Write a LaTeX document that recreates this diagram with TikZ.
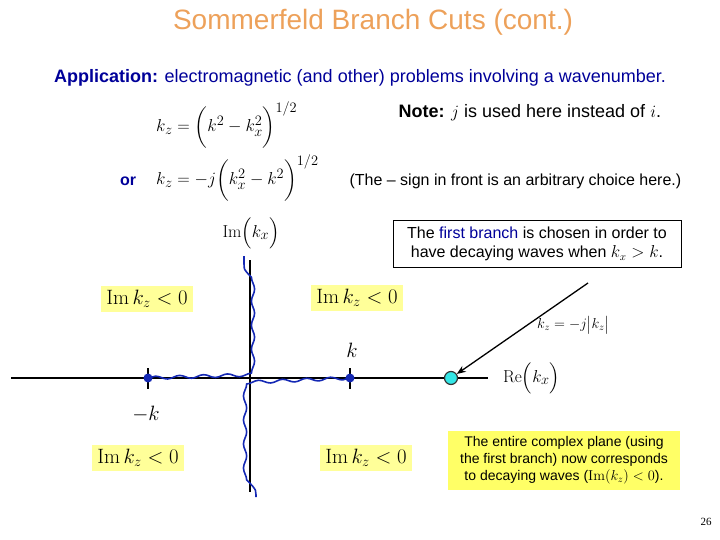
\documentclass[tikz,border=0pt]{standalone}
\usepackage[no-math]{fontspec}
\setmainfont{Liberation Sans}
\newfontfamily\pagefont{Liberation Serif}
\usepackage{amsmath}
\usetikzlibrary{arrows.meta,positioning,decorations.pathmorphing}
\definecolor{peach}{HTML}{EDA15A}
\definecolor{navy}{HTML}{000099}
\definecolor{cutblue}{HTML}{1428B4}
\definecolor{paleyellow}{HTML}{FFFF99}
\definecolor{brightyellow}{HTML}{FFFF66}
\definecolor{aqua}{HTML}{33E6E6}
\tikzset{
  imlabel/.style={fill=paleyellow,inner xsep=5pt,inner ysep=4pt,font=\fontsize{21}{24}\selectfont},
  eqn/.style={font=\fontsize{19}{22}\selectfont,inner sep=1pt},
  smalltext/.style={font=\fontsize{16}{19}\selectfont},
  cut/.style={cutblue,line width=1.6pt,decorate,decoration={snake,amplitude=1.6pt,segment length=24pt}},
  branchpt/.style={circle,fill=cutblue,inner sep=0pt,minimum size=9pt}
}

\begin{document}
\begin{tikzpicture}[x=1pt,y=-1pt]
  \useasboundingbox (0,0) rectangle (720,540);
  \node[peach,font=\fontsize{28}{32}\selectfont] (title) at (373,22) {Sommerfeld Branch Cuts (cont.)};
  \node[navy,font=\fontsize{18}{21}\selectfont] (app) at (360,78) {\textbf{Application:} electromagnetic (and other) problems involving a wavenumber.};
  \node[eqn,anchor=west] (eqone) at (155,125) {$k_z = \biggl(k^2 - k_x^2\biggr)^{1/2}$};
  \node[anchor=west,font=\fontsize{18}{21}\selectfont] (note) at (395,113) {\textbf{Note:} $j$ is used here instead of $i$.};
  \node[navy,font=\bfseries\fontsize{16}{19}\selectfont] (or) at (128,181) {or};
  \node[eqn,anchor=west] (eqtwo) at (155,178) {$k_z = -j\biggl(k_x^2 - k^2\biggr)^{1/2}$};
  \node[smalltext,anchor=west] (sign) at (346,181) {(The -- sign in front is an arbitrary choice here.)};
  \node[smalltext,draw,thin,align=center,minimum width=288pt,minimum height=47pt,inner sep=2pt] (branch) at (537,244)
    {The {\color{navy}first branch} is chosen in order to\\have decaying waves when $k_x > k$.};

  % axes of the k_x plane
  \draw[line width=2.2pt] (11,378) -- (488,378);
  \draw[line width=1.6pt] (250,260) -- (250,492);
  \node[eqn] (imax) at (251,233) {$\mathrm{Im}\Bigl(k_x\Bigr)$};
  \node[eqn,anchor=west] (reax) at (502,378) {$\mathrm{Re}\Bigl(k_x\Bigr)$};
  \draw[line width=1.2pt] (148,368) -- (148,389);
  \draw[line width=1.2pt] (350,368) -- (350,389);

  % branch points and cuts
  \node[branchpt] (kneg) at (148,378) {};
  \node[branchpt] (kpos) at (350,378) {};
  \draw[cut] (kneg.center) -- (244,375) -- (244,256);
  \draw[cut] (kpos.center) -- (256,382) -- (256,497);
  \node[font=\fontsize{22}{24}\selectfont] (klab) at (352,350) {$k$};
  \node[font=\fontsize{22}{24}\selectfont] (mklab) at (146,414) {$-k$};

  \node[imlabel] (imtl) at (147,299) {$\mathrm{Im}\,k_z < 0$};
  \node[imlabel] (imtr) at (357,298) {$\mathrm{Im}\,k_z < 0$};
  \node[imlabel] (imbl) at (138,458) {$\mathrm{Im}\,k_z < 0$};
  \node[imlabel] (imbr) at (366,458) {$\mathrm{Im}\,k_z < 0$};

  % point with k_x > k
  \node[circle,draw=black!80,fill=aqua,line width=1.2pt,minimum size=13pt,inner sep=0pt] (probe) at (451,378) {};
  \coordinate (tail) at (588,283);
  \draw[line width=1.3pt,-{Stealth[length=9pt,width=7pt]}] (tail) -- (probe);
  \node[font=\fontsize{14}{17}\selectfont,anchor=west,inner sep=1pt] (kzabs) at (536,325) {$k_z = -j\bigl|k_z\bigr|$};

  \node[fill=brightyellow,align=center,font=\fontsize{14}{17}\selectfont,minimum width=232pt,minimum height=59pt,inner sep=2pt] (plane) at (564,460)
    {The entire complex plane (using\\the first branch) now corresponds\\to decaying waves ($\mathrm{Im}(k_z) < 0$).};
  \node[font=\pagefont\fontsize{11}{13}\selectfont] (page) at (706,522) {26};
\end{tikzpicture}
\end{document}
